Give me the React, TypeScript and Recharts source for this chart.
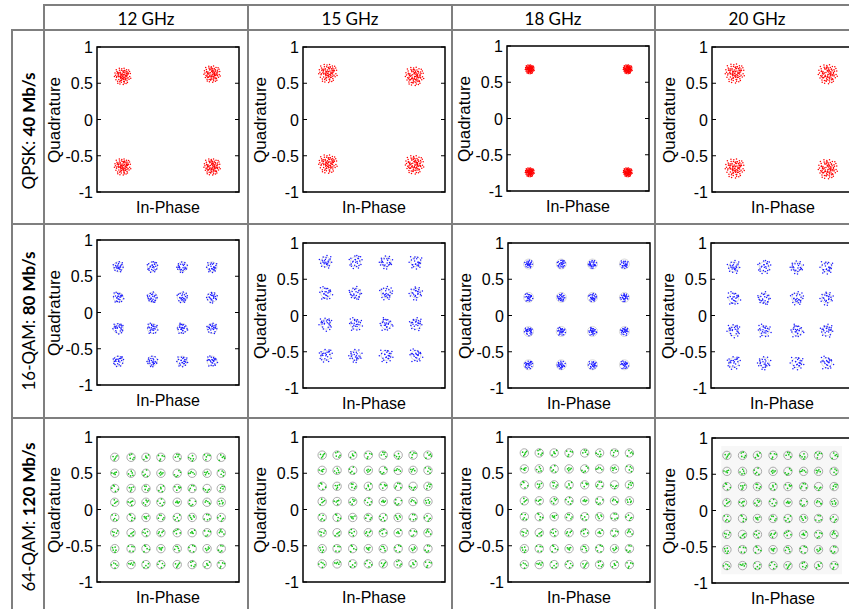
import React from "react";
import {
  ScatterChart,
  Scatter,
  XAxis,
  YAxis,
  ReferenceArea,
} from "recharts";

type Pt = [number, number];

// table headers
const FREQS = ["12 GHz", "15 GHz", "18 GHz", "20 GHz"];
const MODS = ["QPSK: ", "16-QAM: ", "64-QAM: "];
const RATES = ["40 Mb/s", "80 Mb/s", "120 Mb/s"];
const Y_TICKS = [-1, -0.5, 0, 0.5, 1];

// QPSK cluster centres, read per panel
const QPSK_12: Pt[] = [[-0.64, 0.6], [0.62, 0.63], [-0.64, -0.65], [0.62, -0.65]];
const QPSK_15: Pt[] = [[-0.65, 0.64], [0.57, 0.6], [-0.65, -0.61], [0.57, -0.62]];
const QPSK_18: Pt[] = [[-0.68, 0.68], [0.7, 0.68], [-0.68, -0.74], [0.7, -0.74]];
const QPSK_20: Pt[] = [[-0.68, 0.64], [0.63, 0.63], [-0.68, -0.67], [0.63, -0.68]];

// 16-QAM in-phase / quadrature levels
const QAM16_I_12 = [-0.7, -0.22, 0.2, 0.62];
const QAM16_Q_12 = [0.63, 0.21, -0.22, -0.67];
const QAM16_I_15 = [-0.68, -0.26, 0.17, 0.59];
const QAM16_Q_15 = [0.74, 0.31, -0.12, -0.55];
const QAM16_I_18 = [-0.71, -0.25, 0.19, 0.64];
const QAM16_Q_18 = [0.71, 0.25, -0.22, -0.68];
const QAM16_I_20 = [-0.68, -0.25, 0.21, 0.63];
const QAM16_Q_20 = [0.67, 0.24, -0.21, -0.65];

// 64-QAM levels
const QAM64_I_12 = [-0.75, -0.52, -0.31, -0.1, 0.13, 0.34, 0.55, 0.75];
const QAM64_Q_12 = [0.72, 0.5, 0.29, 0.1, -0.11, -0.32, -0.54, -0.76];
const QAM64_I_15 = [-0.73, -0.52, -0.3, -0.08, 0.13, 0.34, 0.55, 0.76];
const QAM64_Q_15 = [0.75, 0.54, 0.32, 0.11, -0.11, -0.32, -0.54, -0.75];
const QAM64_I_18 = [-0.77, -0.56, -0.35, -0.14, 0.08, 0.29, 0.5, 0.71];
const QAM64_Q_18 = [0.78, 0.56, 0.34, 0.12, -0.1, -0.32, -0.54, -0.76];
const QAM64_I_20 = [-0.79, -0.57, -0.36, -0.14, 0.07, 0.29, 0.5, 0.72];
const QAM64_Q_20 = [0.76, 0.54, 0.33, 0.11, -0.11, -0.33, -0.54, -0.76];

// cloud spread per panel (data units)
const QPSK_SPREAD = [0.12, 0.135, 0.065, 0.14];
const QAM16_SPREAD = [0.08, 0.1, 0.06, 0.1];
const QAM64_SPREAD = [0.05, 0.05, 0.05, 0.05];

// hand-typed scatter pattern (unit disk) used for the sample clouds
const JITTER: Pt[] = [
  [0.12, -0.35], [-0.48, 0.22], [0.63, 0.41], [-0.15, -0.72], [0.33, 0.08],
  [-0.71, -0.18], [0.05, 0.58], [0.52, -0.55], [-0.36, 0.66], [0.84, -0.07],
  [-0.22, -0.27], [0.18, 0.89], [-0.89, 0.34], [0.41, -0.86], [-0.58, -0.61],
  [0.71, 0.69], [0.02, -0.06], [-0.05, 0.31], [0.27, -0.18], [-0.41, -0.02],
  [0.58, 0.12], [-0.12, -0.48], [0.39, 0.45], [-0.66, 0.51], [0.91, 0.28],
  [-0.31, -0.92], [0.14, -0.63], [-0.78, -0.42], [0.47, 0.73], [-0.09, 0.82],
  [0.76, -0.38], [-0.52, 0.04], [0.22, 0.21], [-0.27, 0.44], [0.64, -0.21],
  [-0.95, -0.06], [0.08, -0.97], [0.35, -0.42], [-0.44, -0.39], [0.11, 0.44],
  [-0.63, 0.27], [0.49, -0.09], [-0.18, 0.12], [0.82, 0.52], [-0.33, -0.66],
  [0.26, 0.62], [-0.74, 0.72], [0.57, -0.74], [-0.02, -0.28], [0.68, 0.25],
  [-0.56, -0.83], [0.31, -0.01], [-0.13, 0.66], [0.96, -0.25], [-0.38, 0.88],
  [0.19, -0.81], [-0.83, 0.09], [0.44, 0.31], [-0.24, -0.13], [0.07, 0.17],
];

// layout: plot-box top-left corners per row / column
const PLOT_LEFT = [
  [97, 303, 507, 712],
  [97, 303, 508, 711],
  [97, 303, 508, 712],
];
const PLOT_TOP = [
  [47, 47, 46, 47],
  [240, 243, 243, 243],
  [437, 437, 437, 438],
];
const PLOT_W = 142;
const PLOT_H = 145;
const AXIS_W = 50;
const MARGIN = { top: 10, right: 8, bottom: 25, left: 0 };

const LINE = "#7f7f7f";
const AXIS_FONT = "'Liberation Sans', Arial, sans-serif";
const TABLE_FONT = "Lato, 'Noto Sans', sans-serif";

const grid = (is: number[], qs: number[]): Pt[] =>
  qs.flatMap((q) => is.map((i) => [i, q] as Pt));

function cloud(centers: Pt[], count: number, spread: number, stride: number, extra = 0) {
  const out: { x: number; y: number }[] = [];
  centers.forEach(([cx, cy], k) => {
    for (let j = 0; j < count; j++) {
      const [dx, dy] = JITTER[(k * stride + j) % JITTER.length];
      out.push({ x: cx + dx * spread, y: cy + dy * spread });
    }
    for (let j = 0; j < extra; j++) {
      const [dx, dy] = JITTER[(k * 13 + j * 2) % JITTER.length];
      out.push({ x: cx + dy * spread * 0.7, y: cy - dx * spread * 0.7 });
    }
  });
  return out;
}

const QPSK = [QPSK_12, QPSK_15, QPSK_18, QPSK_20];
const QAM16 = [
  grid(QAM16_I_12, QAM16_Q_12),
  grid(QAM16_I_15, QAM16_Q_15),
  grid(QAM16_I_18, QAM16_Q_18),
  grid(QAM16_I_20, QAM16_Q_20),
];
const QAM64 = [
  grid(QAM64_I_12, QAM64_Q_12),
  grid(QAM64_I_15, QAM64_Q_15),
  grid(QAM64_I_18, QAM64_Q_18),
  grid(QAM64_I_20, QAM64_Q_20),
];

interface PanelProps {
  row: number;
  col: number;
}

const YTick = (props: any) => {
  const { x, y, payload } = props;
  const left = x + 4;
  return (
    <g>
      <text x={x} y={y} dy={6} textAnchor="end" fontSize={16} fontFamily={AXIS_FONT} fill="#000">
        {String(payload.value)}
      </text>
      <line x1={left} x2={left + 4} y1={y} y2={y} stroke="#000" />
      <line x1={left + PLOT_W - 4} x2={left + PLOT_W} y1={y} y2={y} stroke="#000" />
    </g>
  );
};

const dot = (color: string, r: number) => (p: any) =>
  <circle cx={p.cx} cy={p.cy} r={r} fill={color} />;

const ring = (color: string, r: number) => (p: any) =>
  <circle cx={p.cx} cy={p.cy} r={r} fill="none" stroke={color} strokeWidth={0.9} />;

function Panel({ row, col }: PanelProps) {
  const L = PLOT_LEFT[row][col];
  const T = PLOT_TOP[row][col];

  let ideal: Pt[] = [];
  let samples: { x: number; y: number }[] = [];
  let color = "#ff0000";
  let r = 0.75;
  let ringColor = "none";
  let ringR = 0;

  if (row === 0) {
    samples = cloud(QPSK[col], 60, QPSK_SPREAD[col], 17, 30);
  } else if (row === 1) {
    ideal = QAM16[col];
    samples = cloud(ideal, 20, QAM16_SPREAD[col], 11, 6);
    color = "#1a1aff";
    ringColor = "#d4d4d4";
    ringR = 5;
  } else {
    ideal = QAM64[col];
    samples = cloud(ideal, 5, QAM64_SPREAD[col], 7);
    color = "#18c418";
    r = 0.85;
    ringColor = "#a0a0a0";
    ringR = 4.2;
  }
  const idealData = ideal.map(([x, y]) => ({ x, y }));

  return (
    <>
      <div style={{ position: "absolute", left: L - AXIS_W, top: T - MARGIN.top }}>
        <ScatterChart
          width={AXIS_W + PLOT_W + MARGIN.right}
          height={PLOT_H + MARGIN.top + MARGIN.bottom}
          margin={MARGIN}
        >
          <XAxis type="number" dataKey="x" domain={[-1, 1]} hide allowDataOverflow />
          <YAxis
            type="number"
            dataKey="y"
            domain={[-1, 1]}
            ticks={Y_TICKS}
            interval={0}
            width={AXIS_W}
            axisLine={false}
            tickLine={false}
            tickSize={0}
            tickMargin={4}
            tick={YTick}
            allowDataOverflow
          />
          {row === 2 && col === 3 && (
            <ReferenceArea x1={-0.87} x2={0.83} y1={-0.88} y2={0.89} fill="#f7f7f7" fillOpacity={1} stroke="none" />
          )}
          {idealData.length > 0 && (
            <Scatter data={idealData} shape={ring(ringColor, ringR)} isAnimationActive={false} />
          )}
          <Scatter data={samples} shape={dot(color, r)} isAnimationActive={false} />
          <ReferenceArea x1={-1} x2={1} y1={-1} y2={1} fill="none" stroke="#000" strokeWidth={1.5} />
        </ScatterChart>
      </div>
      <div
        style={{
          position: "absolute",
          left: L - 42,
          top: T + PLOT_H / 2,
          transform: "translate(-50%, -50%) rotate(-90deg)",
          fontFamily: AXIS_FONT,
          fontSize: 17,
          whiteSpace: "nowrap",
        }}
      >
        Quadrature
      </div>
      <div
        style={{
          position: "absolute",
          left: L + PLOT_W / 2,
          top: T + 161,
          transform: "translate(-50%, -50%)",
          fontFamily: AXIS_FONT,
          fontSize: 16,
          whiteSpace: "nowrap",
        }}
      >
        In-Phase
      </div>
    </>
  );
}

const COL_LINES = [44, 248, 452, 655];
const ROW_LINES = [224, 418];
const COL_CENTERS = [146, 350, 553, 757];
const ROW_CENTERS = [131, 321, 517];

export default function App() {
  const hLine = (y: number, x0: number) => (
    <div key={`h${y}`} style={{ position: "absolute", left: x0, top: y - 1, width: 849 - x0, height: 2, background: LINE }} />
  );
  const vLine = (x: number, y0: number) => (
    <div key={`v${x}`} style={{ position: "absolute", left: x - 1, top: y0, width: 2, height: 609 - y0, background: LINE }} />
  );

  return (
    <div
      style={{
        position: "absolute",
        left: 0,
        top: 0,
        width: 849,
        height: 609,
        overflow: "hidden",
        background: "#fff",
      }}
    >
      {hLine(5, 43)}
      {hLine(30, 11)}
      {ROW_LINES.map((y) => hLine(y, 11))}
      {vLine(12, 29)}
      {COL_LINES.map((x) => vLine(x, 4))}

      {FREQS.map((f, i) => (
        <div
          key={f}
          style={{
            position: "absolute",
            left: COL_CENTERS[i],
            top: 18,
            transform: "translate(-50%, -50%)",
            fontFamily: TABLE_FONT,
            fontSize: 17,
            whiteSpace: "nowrap",
          }}
        >
          {f}
        </div>
      ))}

      {MODS.map((m, i) => (
        <div
          key={m}
          style={{
            position: "absolute",
            left: 28,
            top: ROW_CENTERS[i],
            transform: "translate(-50%, -50%) rotate(-90deg)",
            fontFamily: TABLE_FONT,
            fontSize: 17,
            whiteSpace: "nowrap",
          }}
        >
          {m}
          <b>{RATES[i]}</b>
        </div>
      ))}

      {[0, 1, 2].map((row) =>
        [0, 1, 2, 3].map((col) => <Panel key={`${row}-${col}`} row={row} col={col} />)
      )}
    </div>
  );
}
